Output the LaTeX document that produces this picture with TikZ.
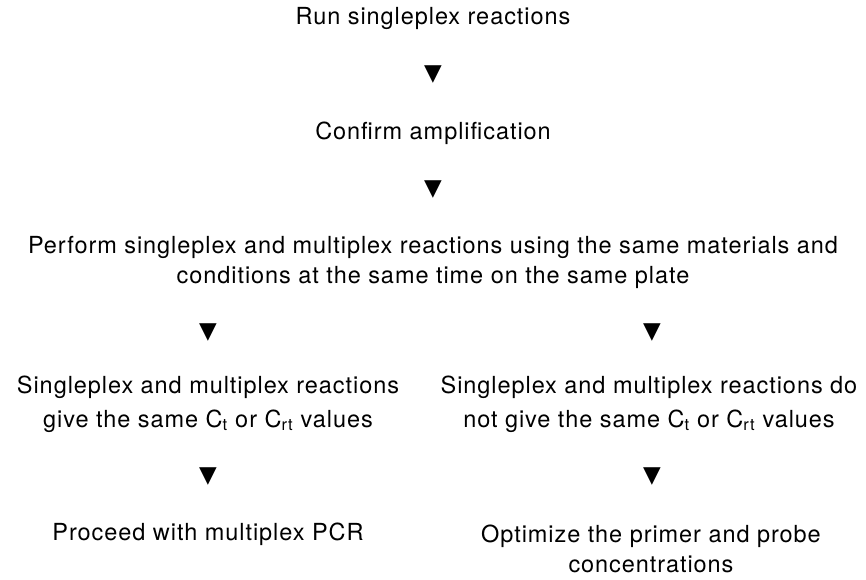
\documentclass[tikz,border=0pt]{standalone}
\usepackage{fontspec}
\setmainfont{TeX Gyre Heros}[LetterSpace=4]
\newfontfamily\symfont{DejaVu Sans}
\begin{document}
\begin{tikzpicture}[x=1pt,y=-1pt,
  stepbox/.style={align=center,font=\fontsize{23.5}{30}\selectfont,inner sep=0pt,text=black},
  tri/.style={font=\symfont\fontsize{23}{23}\selectfont,inner sep=0pt,text=black}]
\useasboundingbox[fill=white] (0,0) rectangle (866,579);
\node[stepbox] (run) at (433,18) {Run singleplex reactions};
\node[tri] (a1) at (433,75) {▼};
\node[stepbox] (conf) at (433,133) {Confirm amplification};
\node[tri] (a2) at (433,190) {▼};
\node[stepbox] (perf) at (433,262) {Perform singleplex and multiplex reactions using the same materials and\\conditions at the same time on the same plate};
\node[tri] (a3) at (208,333) {▼};
\node[tri] (a4) at (652,333) {▼};
\node[stepbox] (same) at (208,404) {Singleplex and multiplex reactions\\[4pt]give the same C\textsubscript{t} or C\textsubscript{rt} values};
\node[stepbox] (diff) at (649,404) {Singleplex and multiplex reactions do\\[4pt]not give the same C\textsubscript{t} or C\textsubscript{rt} values};
\node[tri] (a5) at (208,477) {▼};
\node[tri] (a6) at (652,477) {▼};
\node[stepbox] (proc) at (208,534) {Proceed with multiplex PCR};
\node[stepbox] (opt) at (651,549) {Optimize the primer and probe\\concentrations};
\end{tikzpicture}
\end{document}
